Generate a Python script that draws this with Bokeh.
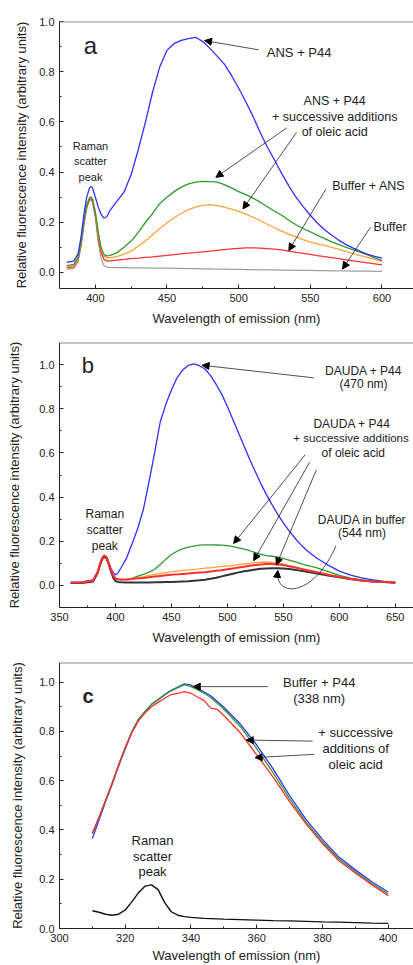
from bokeh.plotting import figure
from bokeh.layouts import column
from bokeh.models import Range1d, FixedTicker, PrintfTickFormatter, Arrow, NormalHead, Span
from bokeh.core.properties import value
from bokeh.embed import file_html
from bokeh.resources import INLINE

FONT = "Liberation Sans"

# ---------------- Panel a (ANS) ----------------
wl_a = [380, 385, 388, 390, 392, 394, 396, 397, 398, 400,
        402, 404, 406, 408, 410,
        415, 420, 425, 430, 435, 440, 445, 450, 455, 460,
        465, 470, 475, 480, 485, 490, 495, 500, 505, 510,
        515, 520, 525, 530, 535, 540, 545, 550, 555, 560,
        565, 570, 575, 580, 585, 590, 595, 600]
ans_p44 = [0.040, 0.045, 0.075, 0.14, 0.23, 0.30, 0.338, 0.343, 0.337, 0.30,
           0.262, 0.232, 0.216, 0.222, 0.245,
           0.283, 0.32, 0.39, 0.49, 0.60, 0.72, 0.82, 0.885, 0.912, 0.925,
           0.932, 0.937, 0.92, 0.893, 0.862, 0.83, 0.785, 0.735, 0.68, 0.622,
           0.558, 0.50, 0.448, 0.395, 0.345, 0.30, 0.262, 0.228, 0.196, 0.17,
           0.148, 0.128, 0.111, 0.097, 0.084, 0.072, 0.064, 0.057]
ans_p44_oa1 = [0.027, 0.032, 0.06, 0.12, 0.20, 0.27, 0.297, 0.30, 0.292, 0.24,
               0.16, 0.10, 0.072, 0.066, 0.067,
               0.078, 0.10, 0.125, 0.16, 0.2, 0.235, 0.275, 0.30, 0.322, 0.34,
               0.353, 0.36, 0.363, 0.362, 0.36, 0.35, 0.337, 0.322, 0.31, 0.296,
               0.28, 0.262, 0.245, 0.228, 0.208, 0.19, 0.175, 0.162, 0.148, 0.135,
               0.122, 0.111, 0.1, 0.09, 0.08, 0.07, 0.058, 0.047]
ans_p44_oa2 = [0.022, 0.027, 0.055, 0.115, 0.20, 0.27, 0.298, 0.30, 0.292, 0.24,
               0.155, 0.095, 0.065, 0.058, 0.058,
               0.063, 0.073, 0.085, 0.105, 0.125, 0.15, 0.175, 0.198, 0.218, 0.236,
               0.25, 0.26, 0.267, 0.27, 0.266, 0.26, 0.252, 0.243, 0.232, 0.22,
               0.207, 0.192, 0.178, 0.165, 0.152, 0.142, 0.131, 0.121, 0.114, 0.108,
               0.1, 0.092, 0.083, 0.075, 0.067, 0.06, 0.052, 0.044]
buffer_ans = [0.018, 0.022, 0.05, 0.11, 0.195, 0.262, 0.29, 0.292, 0.285, 0.23,
              0.14, 0.08, 0.052, 0.046, 0.046,
              0.049, 0.052, 0.055, 0.057, 0.06, 0.062, 0.065, 0.068, 0.071, 0.074,
              0.077, 0.079, 0.082, 0.085, 0.088, 0.091, 0.094, 0.096, 0.098, 0.098,
              0.097, 0.095, 0.093, 0.09, 0.085, 0.08, 0.076, 0.072, 0.067, 0.063,
              0.059, 0.055, 0.05, 0.046, 0.042, 0.038, 0.034, 0.03]
buffer_a = [0.013, 0.016, 0.045, 0.1, 0.185, 0.255, 0.288, 0.29, 0.28, 0.22,
            0.12, 0.055, 0.028, 0.021, 0.02,
            0.019, 0.019, 0.018, 0.018, 0.018, 0.017, 0.017, 0.017, 0.016, 0.016,
            0.015, 0.015, 0.014, 0.014, 0.013, 0.013, 0.012, 0.012, 0.011, 0.011,
            0.01, 0.01, 0.01, 0.009, 0.009, 0.008, 0.008, 0.008, 0.007, 0.007,
            0.006, 0.006, 0.006, 0.005, 0.005, 0.005, 0.004, 0.004]

# ---------------- Panel b (DAUDA) ----------------
wl_b = [360, 370, 380, 384, 386, 388, 390, 392, 394, 396,
        398, 400, 402, 405, 410, 415, 420, 425, 430, 435,
        440, 445, 450, 455, 460, 465, 470, 475, 480, 485,
        490, 495, 500, 505, 510, 515, 520, 525, 530, 535,
        540, 545, 550, 555, 560, 565, 570, 575, 580, 590,
        600, 610, 620, 630, 640, 650]
dauda_p44 = [0.015, 0.016, 0.025, 0.06, 0.095, 0.125, 0.138, 0.13, 0.105, 0.078,
             0.058, 0.048, 0.055, 0.08, 0.125, 0.19, 0.26, 0.345, 0.47, 0.6,
             0.74, 0.82, 0.885, 0.94, 0.975, 0.996, 1.003, 0.995, 0.98, 0.95,
             0.91, 0.865, 0.81, 0.75, 0.69, 0.63, 0.57, 0.515, 0.46, 0.41,
             0.365, 0.322, 0.283, 0.248, 0.216, 0.188, 0.163, 0.142, 0.123, 0.092,
             0.065, 0.047, 0.034, 0.025, 0.018, 0.013]
dauda_oa1 = [0.012, 0.013, 0.022, 0.06, 0.093, 0.123, 0.135, 0.127, 0.1, 0.07,
             0.045, 0.032, 0.028, 0.027, 0.028, 0.033, 0.042, 0.05, 0.06, 0.073,
             0.095, 0.118, 0.14, 0.155, 0.166, 0.173, 0.178, 0.182, 0.184, 0.184,
             0.183, 0.182, 0.18, 0.176, 0.17, 0.164, 0.157, 0.149, 0.141, 0.135,
             0.132, 0.128, 0.122, 0.115, 0.108, 0.1, 0.092, 0.086, 0.079, 0.062,
             0.045, 0.033, 0.025, 0.019, 0.015, 0.013]
dauda_oa2 = [0.012, 0.013, 0.022, 0.06, 0.093, 0.123, 0.135, 0.127, 0.1, 0.07,
             0.045, 0.032, 0.028, 0.027, 0.028, 0.031, 0.036, 0.04, 0.045, 0.05,
             0.054, 0.058, 0.062, 0.065, 0.068, 0.07, 0.073, 0.075, 0.078, 0.08,
             0.083, 0.086, 0.088, 0.091, 0.094, 0.097, 0.1, 0.103, 0.105, 0.106,
             0.104, 0.1, 0.096, 0.09, 0.084, 0.078, 0.072, 0.066, 0.06, 0.048,
             0.038, 0.029, 0.022, 0.018, 0.015, 0.013]
dauda_oa3 = [0.012, 0.013, 0.022, 0.06, 0.093, 0.123, 0.135, 0.127, 0.1, 0.07,
             0.045, 0.032, 0.028, 0.026, 0.027, 0.029, 0.032, 0.034, 0.037, 0.04,
             0.043, 0.046, 0.048, 0.05, 0.052, 0.054, 0.056, 0.058, 0.06, 0.063,
             0.066, 0.069, 0.073, 0.077, 0.081, 0.085, 0.089, 0.092, 0.095, 0.097,
             0.097, 0.095, 0.092, 0.087, 0.082, 0.076, 0.07, 0.065, 0.06, 0.048,
             0.038, 0.029, 0.022, 0.018, 0.015, 0.013]
dauda_buffer = [0.011, 0.011, 0.018, 0.055, 0.088, 0.118, 0.13, 0.122, 0.095, 0.062,
                0.035, 0.02, 0.016, 0.014, 0.013, 0.013, 0.013, 0.013, 0.013, 0.014,
                0.014, 0.015, 0.016, 0.017, 0.018, 0.019, 0.021, 0.023, 0.026, 0.03,
                0.035, 0.041, 0.047, 0.053, 0.059, 0.064, 0.068, 0.072, 0.075, 0.077,
                0.078, 0.078, 0.077, 0.074, 0.071, 0.067, 0.063, 0.058, 0.054, 0.045,
                0.037, 0.029, 0.022, 0.018, 0.015, 0.012]

# ---------------- Panel c (tryptophan) ----------------
wl_c = [310, 312, 314, 316, 318, 320, 322, 324, 326, 328,
        330, 332, 334, 336, 338, 340, 342, 344, 346, 348,
        350, 355, 360, 365, 370, 375, 380, 385, 390, 395, 400]
buffer_p44 = [0.365, 0.44, 0.515, 0.585, 0.66, 0.73, 0.795, 0.845, 0.88, 0.91,
              0.93, 0.95, 0.967, 0.98, 0.993, 0.988, 0.975, 0.96, 0.945, 0.922,
              0.898, 0.83, 0.745, 0.648, 0.54, 0.443, 0.362, 0.29, 0.238, 0.19, 0.148]
p44_oa1 = [0.385, 0.45, 0.52, 0.59, 0.665, 0.735, 0.8, 0.85, 0.88, 0.91,
           0.928, 0.948, 0.965, 0.978, 0.99, 0.982, 0.97, 0.955, 0.938, 0.915,
           0.89, 0.82, 0.73, 0.632, 0.527, 0.432, 0.352, 0.282, 0.23, 0.183, 0.14]
p44_oa2 = [0.387, 0.452, 0.52, 0.59, 0.665, 0.735, 0.795, 0.843, 0.875, 0.9,
           0.918, 0.935, 0.95, 0.955, 0.962, 0.955, 0.94, 0.925, 0.895, 0.89,
           0.865, 0.795, 0.705, 0.615, 0.515, 0.425, 0.345, 0.275, 0.225, 0.178, 0.133]
raman_c = [0.072, 0.066, 0.058, 0.054, 0.058, 0.075, 0.108, 0.145, 0.172, 0.177,
           0.158, 0.105, 0.068, 0.054, 0.048, 0.045, 0.043, 0.041, 0.04, 0.039,
           0.038, 0.036, 0.034, 0.032, 0.031, 0.029, 0.027, 0.026, 0.024, 0.022, 0.021]

# ticks
xt_a = [400, 450, 500, 550, 600]
xm_a = [425, 475, 525, 575]
xt_b = [350, 400, 450, 500, 550, 600, 650]
xm_b = [375, 425, 475, 525, 575, 625]
xt_c = [300, 320, 340, 360, 380, 400]
xm_c = [310, 330, 350, 370, 390]
yt = [0.0, 0.2, 0.4, 0.6, 0.8, 1.0]
ym = [0.1, 0.3, 0.5, 0.7, 0.9]

XLABEL = "Wavelength of emission (nm)"
YLABEL = "Relative fluorescence intensity (arbitrary units)"

BLUE = "#2f2fff"
GREEN = "#2e9a2e"
ORANGE = "#ffa23a"
RED = "#ff3030"


def make_fig(h, xr, yr, bt, bb, bl, xt, xm, ylab_standoff, xlab_standoff=6):
    p = figure(width=413, height=h, x_range=Range1d(*xr), y_range=Range1d(*yr),
               output_backend="svg", toolbar_location=None,
               min_border_top=bt, min_border_bottom=bb, min_border_left=bl,
               min_border_right=0)
    p.outline_line_color = None
    p.grid.visible = False
    p.background_fill_color = "white"
    p.border_fill_color = "white"
    p.xaxis.ticker = FixedTicker(ticks=xt, minor_ticks=xm)
    p.yaxis.ticker = FixedTicker(ticks=yt, minor_ticks=ym)
    p.xaxis.formatter = PrintfTickFormatter(format="%d")
    p.yaxis.formatter = PrintfTickFormatter(format="%.1f")
    for ax in (p.xaxis, p.yaxis):
        ax.major_tick_in = 4
        ax.major_tick_out = 0
        ax.minor_tick_in = 2
        ax.minor_tick_out = 0
        ax.axis_line_color = "#222222"
        ax.major_tick_line_color = "#222222"
        ax.minor_tick_line_color = "#222222"
        ax.major_label_text_font = FONT
        ax.major_label_text_font_size = "11px"
        ax.major_label_text_color = "#222222"
        ax.axis_label_text_font = FONT
        ax.axis_label_text_font_size = "13px"
        ax.axis_label_text_font_style = "normal"
        ax.axis_label_text_color = "#222222"
    p.xaxis.axis_label = XLABEL
    p.yaxis.axis_label = YLABEL
    p.xaxis.axis_label_standoff = xlab_standoff
    p.yaxis.axis_label_standoff = ylab_standoff
    p.add_layout(Span(location=yr[1], dimension="width", line_color="#8c8c8c", line_width=2))
    return p


def label(p, xs, ys, texts, size="13px", style="normal"):
    p.text(x=xs, y=ys, text=texts, text_font=value(FONT), text_font_size=size,
           text_font_style=style, text_align="center", text_baseline="middle",
           text_color="#222222")


def arrow(p, x0, y0, x1, y1):
    p.add_layout(Arrow(end=NormalHead(size=7, line_color="black", fill_color="black", line_width=1),
                       x_start=x0, y_start=y0, x_end=x1, y_end=y1,
                       line_color="#222222", line_width=0.8))


# ----- figure a -----
fa = make_fig(328, (375, 622.0), (-0.064, 1.0), 21, 40, 54, xt_a, xm_a, 7)
fa.line(wl_a, buffer_a, line_color="#a0a0a0", line_width=1.2)
fa.line(wl_a, buffer_ans, line_color=RED, line_width=1.3)
fa.line(wl_a, ans_p44_oa2, line_color=ORANGE, line_width=1.3)
fa.line(wl_a, ans_p44_oa1, line_color=GREEN, line_width=1.3)
fa.line(wl_a, ans_p44, line_color=BLUE, line_width=1.3)
label(fa, [396.6], [0.904], ["a"], size="24px")
label(fa, [542.2], [0.878], ["ANS + P44"])
label(fa, [567, 567, 567], [0.685, 0.618, 0.558],
      ["ANS + P44", "+ successive additions", "of oleic acid"], size="12.5px")
label(fa, [590.8], [0.343], ["Buffer + ANS"], size="12.5px")
label(fa, [605.7], [0.18], ["Buffer"], size="12.5px")
label(fa, [396.6, 396.6, 396.6], [0.505, 0.446, 0.382], ["Raman", "scatter", "peak"], size="11px")
arrow(fa, 514, 0.887, 476.2, 0.924)
arrow(fa, 533.5, 0.576, 484.1, 0.379)
arrow(fa, 540.4, 0.558, 503, 0.253)
arrow(fa, 561, 0.333, 535, 0.087)
arrow(fa, 592, 0.18, 572.5, 0.0135)

# ----- figure b -----
fb = make_fig(320, (350, 666.3), (-0.1, 1.1), 14, 41, 59, xt_b, xm_b, 14)
fb.line(wl_b, dauda_p44, line_color=BLUE, line_width=1.3)
fb.line(wl_b, dauda_oa1, line_color=GREEN, line_width=1.3)
fb.line(wl_b, dauda_oa2, line_color=ORANGE, line_width=1.3)
fb.line(wl_b, dauda_buffer, line_color="#333333", line_width=2)
fb.line(wl_b, dauda_oa3, line_color=RED, line_width=2)
label(fb, [375.3], [0.995], ["b"], size="22px")
label(fb, [621.7, 621.7], [0.973, 0.91], ["DAUDA + P44", "(470 nm)"], size="12px")
label(fb, [611.3, 612.5], [0.73, 0.6], ["DAUDA + P44", "of oleic acid"], size="12px")
label(fb, [610.5], [0.666], ["+ successive additions"], size="11.5px")
label(fb, [620.3, 620.3], [0.298, 0.236], ["DAUDA in buffer", "(544 nm)"], size="12px")
label(fb, [390.5, 390.5, 390.5], [0.325, 0.25, 0.178], ["Raman", "scatter", "peak"], size="12px")
arrow(fb, 577.1, 0.94, 477.4, 0.997)
arrow(fb, 569.6, 0.592, 505.6, 0.19)
arrow(fb, 573.5, 0.558, 523.5, 0.112)
arrow(fb, 579.5, 0.523, 543.8, 0.093)
fb.bezier(x0=[597], y0=[0.18], x1=[545], y1=[0.062], cx0=[578], cy0=[-0.05],
          cx1=[543], cy1=[-0.06], line_color="#222222", line_width=0.8)
arrow(fb, 544.6, 0.045, 545.1, 0.068)

# ----- figure c -----
fc = make_fig(317, (300, 407.7), (0.0, 1.08), 14, 37, 57, xt_c, xm_c, 11, 3)
fc.line(wl_c, buffer_p44, line_color=BLUE, line_width=1.3)
fc.line(wl_c, p44_oa1, line_color=GREEN, line_width=1.3)
fc.line(wl_c, p44_oa2, line_color=RED, line_width=1.3)
fc.line(wl_c, raman_c, line_color="#111111", line_width=1.4)
label(fc, [308.7], [0.944], ["c"], size="20px", style="bold")
label(fc, [379, 379], [0.998, 0.935], ["Buffer + P44", "(338 nm)"])
label(fc, [390.1, 390.1, 390.1], [0.795, 0.732, 0.667],
      ["+ successive", "additions of", "oleic acid"])
label(fc, [328.3, 328.3, 328.3], [0.359, 0.294, 0.23], ["Raman", "scatter", "peak"])
arrow(fc, 363.4, 0.982, 340.7, 0.982)
arrow(fc, 377, 0.761, 356.8, 0.765)
arrow(fc, 377.5, 0.707, 359.5, 0.694)

layout = column(fa, fb, fc)
open("out.html", "w").write(file_html(layout, INLINE))
